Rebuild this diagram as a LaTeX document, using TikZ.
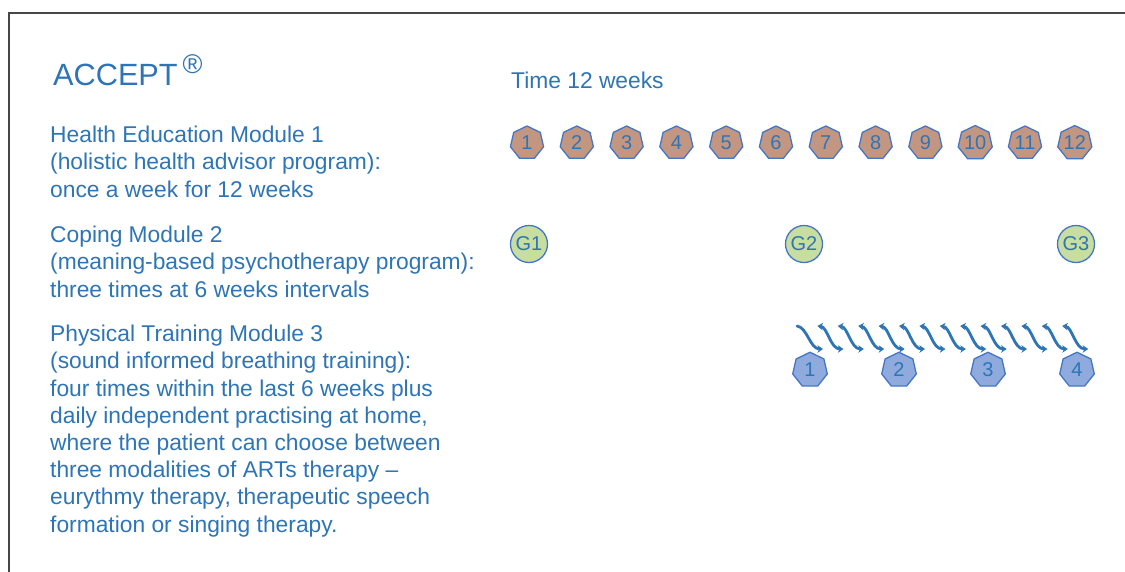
\documentclass[tikz,border=0pt]{standalone}
\usepackage{fontspec}
\setmainfont{Liberation Sans}
\usetikzlibrary{shapes.geometric,arrows.meta}

\definecolor{txt}{RGB}{46,117,182}
\definecolor{edge}{RGB}{68,118,198}
\definecolor{brownfill}{RGB}{195,150,130}
\definecolor{greenfill}{RGB}{200,222,160}
\definecolor{bluefill}{RGB}{143,170,220}
\definecolor{framegray}{RGB}{70,70,70}

\tikzset{
  % multi-line labels: the base anchor sits on the last line
  lbl/.style={align=left, text=txt, font=\fontsize{22.8}{27.2}\selectfont, inner sep=0pt, anchor=base west},
  hepta/.style={regular polygon, regular polygon sides=7, inner sep=0pt,
    draw=edge, line width=1.3pt, text=txt, font=\fontsize{20}{20}\selectfont},
  week/.style={hepta, minimum size=34pt, fill=brownfill},
  session/.style={hepta, minimum size=35.5pt, fill=bluefill},
  group/.style={circle, minimum size=37pt, inner sep=0pt, draw=edge, line width=1.3pt,
    fill=greenfill, text=txt, font=\fontsize{20}{20}\selectfont},
  wave/.style={draw=txt, line width=2.8pt, line cap=round,
    arrows={-Stealth[length=5.5pt,width=7.5pt]}},
  wave2/.style={wave, arrows={Stealth[length=5.5pt,width=7.5pt]-Stealth[length=5.5pt,width=7.5pt]}},
}

\begin{document}
\begin{tikzpicture}[x=1pt,y=-1pt]
\useasboundingbox (0,0) rectangle (1125,571);
\fill[white] (0,0) rectangle (1125,571);

% frame: left and top edge
\draw[framegray, line width=2pt] (9,572) -- (9,13) -- (1126,13);

% title and time axis label
\node[text=txt, font=\fontsize{30.7}{30.7}\selectfont, inner sep=0pt, anchor=base west] (title) at (53,85)
  {ACCEPT\hspace{5pt}\raisebox{12pt}{\fontsize{27}{27}\selectfont ®}};
\node[lbl] (time) at (511,88) {Time 12 weeks};

% module descriptions
\node[lbl] (m1) at (50,197) {Health Education Module 1\\(holistic health advisor program):\\once a week for 12 weeks};
\node[lbl] (m2) at (50,297) {Coping Module 2\\(meaning-based psychotherapy program):\\three times at 6 weeks intervals};
\node[lbl] (m3) at (50,532) {Physical Training Module 3\\(sound informed breathing training):\\four times within the last 6 weeks plus\\daily independent practising at home,\\where the patient can choose between\\three modalities of ARTs therapy --\\eurythmy therapy, therapeutic speech\\formation or singing therapy.};

% module 1: weekly sessions
\foreach \k in {1,...,12}
  \node[week] (w\k) at ({527+49.8*(\k-1)},143) {\k};

% module 2: group sessions
\node[group] (g1) at (529,244) {G1};
\node[group] (g2) at (804,244) {G2};
\node[group] (g3) at (1076,244) {G3};

% module 3: daily practice waves
\draw[wave] (797,326) .. controls (807,327) and (810,349) .. (823,349);
\foreach \k in {1,...,13}
  \draw[wave2] ({797+20.4*\k},326) .. controls ({807+20.4*\k},327) and ({810+20.4*\k},349) .. ({823+20.4*\k},349);

% module 3: training sessions
\foreach \k in {1,...,4}
  \node[session] (s\k) at ({810+89*(\k-1)},370) {\k};
\end{tikzpicture}
\end{document}
